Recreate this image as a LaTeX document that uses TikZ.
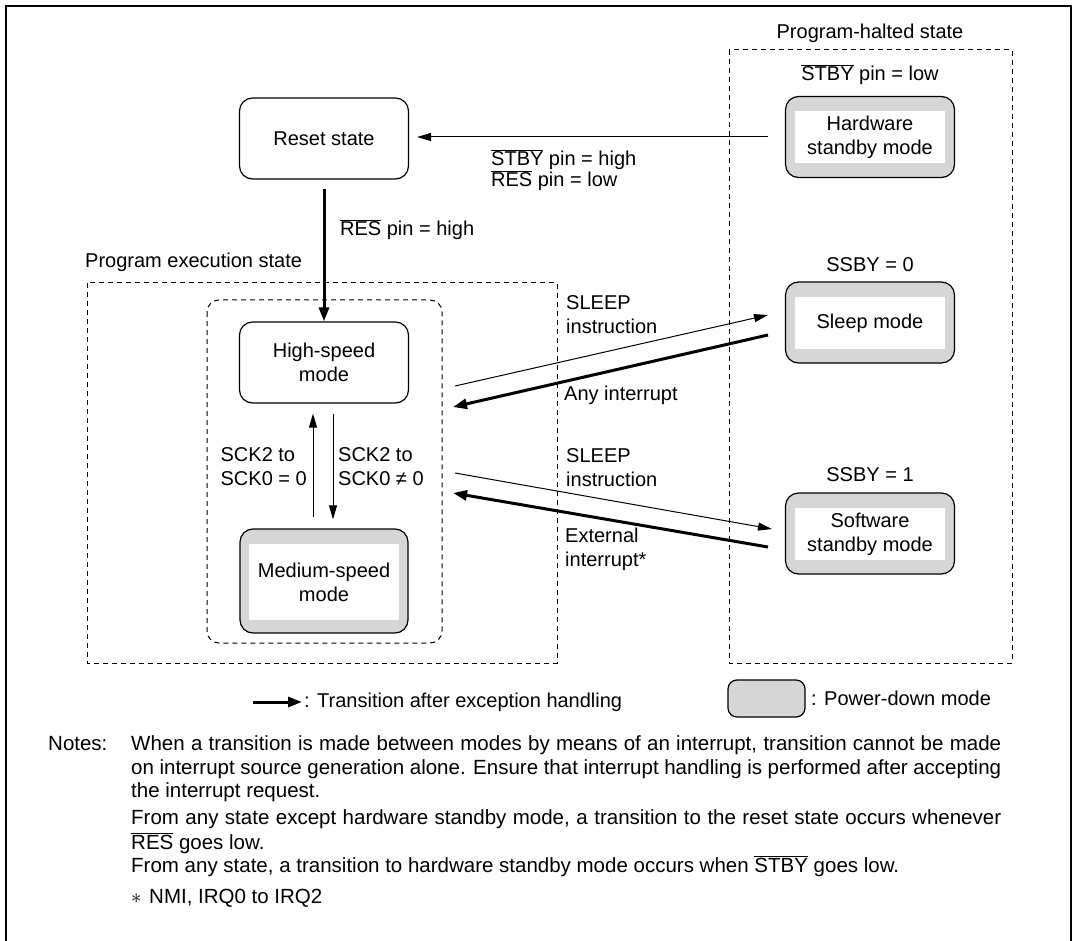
\documentclass[tikz,border=0pt]{standalone}
\usepackage{fontspec}
\setmainfont{Liberation Sans}
\usetikzlibrary{arrows.meta,calc}
\newcommand{\ovl}[1]{$\overline{\mbox{#1}}$}
\definecolor{pdgray}{gray}{0.84}
\begin{document}
\begin{tikzpicture}[x=1pt,y=-1pt,
  every node/.style={font=\fontsize{20}{24}\selectfont, inner sep=0pt},
  notefont/.style={font=\fontsize{20.5}{24}\selectfont},
  statebox/.style={draw, line width=1.2pt, rounded corners=13pt, minimum width=169pt, minimum height=81pt, align=center},
  pdbox/.style={statebox, fill=pdgray},
  pdin/.style={fill=white, minimum width=150pt, minimum height=52pt, align=center},
  thinarr/.style={line width=1pt, -{Triangle[length=14pt,width=8pt]}},
  thickarr/.style={line width=3pt, -{Triangle[length=14pt,width=10pt]}},
  dashbox/.style={line width=1pt, dash pattern=on 5pt off 4pt},
  lbl/.style={align=left, anchor=west}
]
\useasboundingbox (0,0) rectangle (1076,941);
\draw[line width=2.5pt] (6,960) -- (6,6) -- (1071,6) -- (1071,960);

% dashed regions
\draw[dashbox] (87,283) rectangle (557,663);
\draw[dashbox] (729,50) rectangle (1012,663);
\draw[dashbox, rounded corners=12pt] (207,300) rectangle (442,643);
\node[anchor=west] (pes) at (85,262) {Program execution state};
\node (phs) at (870,33) {Program-halted state};

% states
\node[statebox] (reset) at (324,138.5) {Reset state};
\node[statebox] (high) at (324,362.5) {High-speed\\mode};
\node[pdbox, minimum width=168pt, minimum height=104pt] (medium) at (324,581) {};
\node[pdin, minimum height=76pt] (mediumin) at (324,582) {Medium-speed\\mode};

\node[pdbox] (hw) at (870,137) {};
\node[pdin] (hwin) at (870,137) {Hardware\\standby mode};
\node[pdbox] (sleep) at (870,322.5) {};
\node[pdin] (sleepin) at (870,323) {Sleep mode};
\node[pdbox] (soft) at (870,533.5) {};
\node[pdin] (softin) at (870,534) {Software\\standby mode};

\node (stbylow) at (870,75) {\ovl{STBY} pin = low};
\node (ssby0) at (870,265) {SSBY = 0};
\node (ssby1) at (870,475) {SSBY = 1};

% connectors
\draw[thinarr, shorten <=17pt, shorten >=8pt] (hw.west) -- (hw.west -| reset.east);
\node[lbl] (lstby) at (491,170) {\ovl{STBY} pin = high\\[-3pt]\ovl{RES} pin = low};

\draw[thickarr, shorten <=9pt] (reset.south) -- (high.north);
\node[lbl] (lres) at (340,230) {\ovl{RES} pin = high};

\draw[thinarr, shorten <=11pt, shorten >=10pt] ([xshift=-11pt]medium.north) -- ([xshift=-11pt]high.south);
\draw[thinarr, shorten <=10pt, shorten >=9pt] ([xshift=9pt]high.south) -- ([xshift=9pt]medium.north);
\node[align=left, anchor=east] (lup) at (307,467) {SCK2 to\\SCK0 = 0};
\node[lbl] (ldown) at (338,467) {SCK2 to\\SCK0 ≠ 0};

\coordinate (s1a) at (455,386);
\coordinate (s1b) at (768,315);
\coordinate (s2a) at (768,335);
\coordinate (s2b) at (453,407);
\draw[thinarr] (s1a) -- (s1b);
\draw[thickarr] (s2a) -- (s2b);
\node[lbl] (lsleep1) at (566,315) {SLEEP\\instruction};
\node[lbl] (lany) at (564,395) {Any interrupt};

\coordinate (t1a) at (455,473);
\coordinate (t1b) at (772,529);
\coordinate (t2a) at (768,547);
\coordinate (t2b) at (453,493);
\draw[thinarr] (t1a) -- (t1b);
\draw[thickarr] (t2a) -- (t2b);
\node[lbl] (lsleep2) at (566,468) {SLEEP\\instruction};
\node[lbl] (lext) at (565,549) {External\\interrupt*};

% legend
\coordinate (lg1) at (253,702);
\coordinate (lg2) at (302,702);
\draw[thickarr] (lg1) -- (lg2);
\node[anchor=west] (lgt) at (304,702) {: Transition after exception handling};
\node[draw, line width=1.2pt, fill=pdgray, rounded corners=9pt, minimum width=77pt, minimum height=37pt] (lgbox) at (766.5,698.5) {};
\node[anchor=west] (lgt2) at (811,698) {: Power-down mode};

% notes
\begin{scope}[every node/.append style={notefont, anchor=base west}]
\node (n0) at (48,750) {Notes:};
\node (n1) at (131,750) {\makebox[870pt][s]{When a transition is made between modes by means of an interrupt, transition cannot be made}};
\node (n2) at (131,774) {\makebox[870pt][s]{on interrupt source generation alone. Ensure that interrupt handling is performed after accepting}};
\node (n3) at (131,797) {the interrupt request.};
\node (n4) at (131,824) {\makebox[870pt][s]{From any state except hardware standby mode, a transition to the reset state occurs whenever}};
\node (n5) at (131,849) {\ovl{RES} goes low.};
\node (n6) at (131,872) {From any state, a transition to hardware standby mode occurs when \ovl{STBY} goes low.};
\node (n7a) at (131,903) {$\ast$};
\node (n7) at (149,903) {NMI, IRQ0 to IRQ2};
\end{scope}
\end{tikzpicture}
\end{document}
